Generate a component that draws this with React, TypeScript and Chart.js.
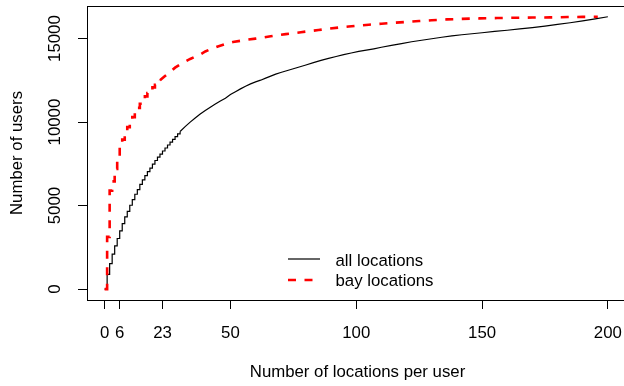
import React, { useEffect, useRef } from "react";
import { Chart, registerables } from "chart.js";

Chart.register(...registerables);

// ---- data ----
const xTickValues = [0, 6, 23, 50, 100, 150, 200];
const yTickValues = [0, 5000, 10000, 15000];

const allX = [0, 1, 2, 3, 4, 5, 6, 7, 8, 9, 10, 11, 12, 13, 14, 15, 16, 17, 18, 19, 20, 21, 22, 23, 24, 25, 26, 27, 28, 29, 30,
  32, 34, 36, 38, 40, 42, 44, 46, 48, 50, 52, 54, 56, 58, 60, 62, 64, 66, 68, 70, 72, 74, 76, 78, 80,
  83, 86, 89, 92, 95, 98, 101, 104, 107, 110, 114, 118, 122, 126, 130, 134, 138, 142, 146, 150,
  155, 160, 165, 170, 175, 180, 185, 190, 195, 200];
const allUsers = [0, 880, 1530, 2090, 2590, 3030, 3490, 3920, 4320, 4660, 5020, 5360, 5680, 5960, 6270, 6540, 6790, 7030, 7250, 7480, 7700, 7900, 8080, 8270, 8450, 8630, 8800, 8970, 9130, 9290, 9440,
  9730, 10000, 10250, 10480, 10690, 10890, 11080, 11260, 11430, 11650, 11820, 11990, 12150, 12290, 12410, 12510, 12630, 12750, 12870, 12970, 13060, 13150, 13240, 13330, 13420,
  13560, 13700, 13820, 13930, 14040, 14140, 14230, 14310, 14390, 14480, 14590, 14700, 14810, 14900, 14990, 15080, 15160, 15230, 15290, 15350,
  15430, 15500, 15580, 15660, 15750, 15850, 15950, 16060, 16180, 16310];

const bayX = [0, 1, 2, 3, 4, 5, 6, 7, 8, 9, 10, 11, 12, 13, 14, 15, 16, 17, 18, 19, 20, 21, 22, 24, 26, 28, 30, 32, 34, 36, 38, 40,
  42, 45, 48, 51, 54, 57, 60, 63, 66, 69, 72, 75, 78, 81, 85, 89, 93, 97, 101, 105, 110, 115, 120, 125, 130,
  136, 142, 149, 156, 163, 170, 177, 184, 190, 196];
const bayUsers = [0, 3130, 5900, 6450, 7200, 7900, 8500, 8950, 9350, 9700, 10000, 10300, 10600, 10850, 11100, 11330, 11540, 11740, 11920, 12080, 12230, 12370, 12500, 12760, 12990, 13260, 13450, 13620, 13780, 13920, 14050, 14230,
  14360, 14530, 14680, 14800, 14870, 14940, 15000, 15070, 15140, 15210, 15270, 15320, 15380, 15440, 15510, 15590, 15660, 15720, 15780, 15830, 15890, 15950, 16000, 16050, 16100,
  16150, 16180, 16210, 16230, 16250, 16260, 16270, 16290, 16300, 16310];

// below these x values every unit step is listed (drawn as stairs); above, the curve is drawn smooth
const allStepLimit = 30;
const bayStepLimit = 22;

const seriesNames = ["all locations", "bay locations"];
const xTitle = "Number of locations per user";
const yTitle = "Number of users";

const FONT = "16.8px 'Liberation Sans', Arial, sans-serif";

const seriesStyles = [
  { label: seriesNames[0], color: "#000000", width: 1.2, dash: [] as number[] },
  { label: seriesNames[1], color: "#ff0000", width: 2.6, dash: [8, 8.5] },
];

function toPoints(xs: number[], ys: number[]) {
  return xs.map((x, i) => ({ x, y: ys[i] }));
}

function splitSeries(xs: number[], ys: number[], limit: number) {
  const pts = toPoints(xs, ys);
  return {
    stepped: pts.filter((p) => p.x <= limit),
    smooth: pts.filter((p) => p.x >= limit),
  };
}

const rStylePlugin = {
  id: "rstyle",
  afterDraw(chart: any) {
    const { ctx, chartArea: a, scales } = chart;
    const xs = scales.x;
    const ys = scales.y;
    ctx.save();
    ctx.strokeStyle = "#000";
    ctx.lineWidth = 1;
    ctx.setLineDash([]);
    ctx.strokeRect(Math.round(a.left) + 0.5, Math.round(a.top) + 0.5, Math.round(a.right - a.left), Math.round(a.bottom - a.top));

    ctx.fillStyle = "#000";
    ctx.font = FONT;
    ctx.textBaseline = "alphabetic";
    ctx.textAlign = "center";
    xTickValues.forEach((v) => ctx.fillText(String(v), xs.getPixelForValue(v), 338));
    yTickValues.forEach((v) => {
      ctx.save();
      ctx.translate(60, ys.getPixelForValue(v));
      ctx.rotate(-Math.PI / 2);
      ctx.fillText(String(v), 0, 0);
      ctx.restore();
    });
    ctx.fillText(xTitle, (a.left + a.right) / 2, 377);
    ctx.save();
    ctx.translate(22, (a.top + a.bottom) / 2);
    ctx.rotate(-Math.PI / 2);
    ctx.fillText(yTitle, 0, 0);
    ctx.restore();

    const rows = [
      { s: seriesStyles[0], y: 259, ty: 265.5 },
      { s: seriesStyles[1], y: 280, ty: 285.5 },
    ];
    rows.forEach((r) => {
      ctx.save();
      ctx.strokeStyle = r.s.color;
      ctx.lineWidth = r.s.width;
      ctx.setLineDash(r.s.dash);
      ctx.beginPath();
      ctx.moveTo(288, r.y);
      ctx.lineTo(320, r.y);
      ctx.stroke();
      ctx.restore();
      ctx.textAlign = "left";
      ctx.fillText(r.s.label, 335.5, r.ty);
    });
    ctx.restore();
  },
};

export default function App() {
  const ref = useRef<HTMLCanvasElement | null>(null);
  useEffect(() => {
    if (!ref.current) return;
    const all = splitSeries(allX, allUsers, allStepLimit);
    const bay = splitSeries(bayX, bayUsers, bayStepLimit);
    const mk = (s: any, data: any[], stepped: boolean, order: number) => ({
      label: s.label,
      data,
      borderColor: s.color,
      borderWidth: s.width,
      borderDash: s.dash,
      stepped,
      pointRadius: 0,
      fill: false,
      order,
    });
    const chart = new Chart(ref.current, {
      type: "line",
      data: {
        datasets: [
          mk(seriesStyles[0], all.stepped, true, 1),
          mk(seriesStyles[0], all.smooth, false, 1),
          mk(seriesStyles[1], bay.stepped, true, 0),
          mk(seriesStyles[1], bay.smooth, false, 0),
        ],
      },
      plugins: [rStylePlugin],
      options: {
        responsive: false,
        animation: false,
        devicePixelRatio: 1,
        layout: { padding: { left: 78, top: 6, right: 12, bottom: 77 } },
        plugins: { legend: { display: false }, tooltip: { enabled: false } },
        scales: {
          x: {
            type: "linear",
            min: -7,
            max: 208,
            afterBuildTicks: (s: any) => {
              s.ticks = xTickValues.map((v) => ({ value: v }));
            },
            ticks: { display: false },
            border: { display: false },
            grid: { drawOnChartArea: false, drawTicks: true, tickLength: 9, tickColor: "#000", lineWidth: 1 },
          },
          y: {
            type: "linear",
            min: -652,
            max: 16952,
            afterBuildTicks: (s: any) => {
              s.ticks = yTickValues.map((v) => ({ value: v }));
            },
            ticks: { display: false },
            border: { display: false },
            grid: { drawOnChartArea: false, drawTicks: true, tickLength: 9, tickColor: "#000", lineWidth: 1 },
          },
        },
      },
    });
    return () => chart.destroy();
  }, []);
  return (
    <div style={{ position: "fixed", left: 0, top: 0, width: 624, height: 386, overflow: "hidden", background: "#fff" }}>
      <canvas ref={ref} width={640} height={386} style={{ display: "block" }} />
    </div>
  );
}
